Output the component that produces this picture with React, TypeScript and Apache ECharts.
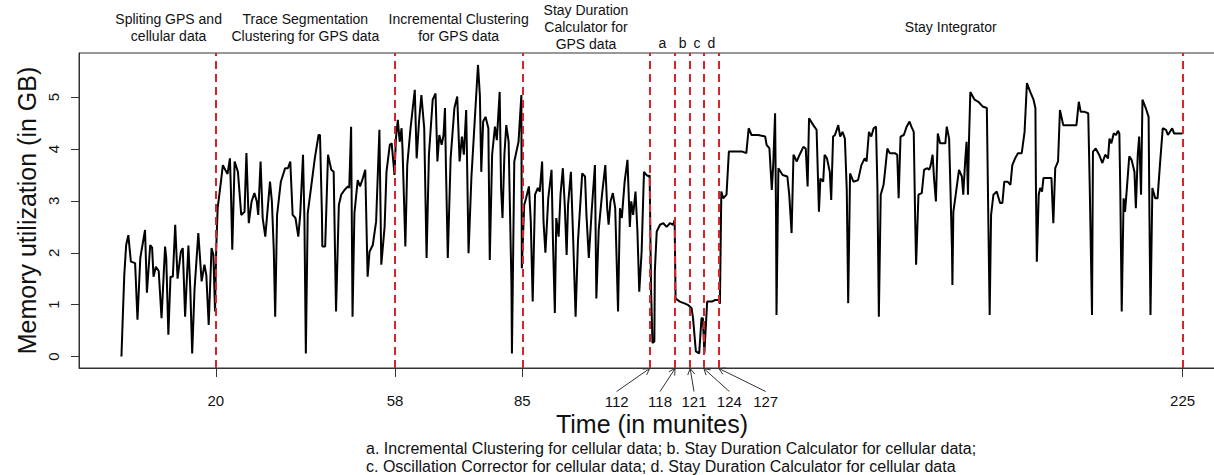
import React, { useEffect, useRef } from 'react';
import * as echarts from 'echarts';

// ---- data ----
const timeMin = [
  0, 0.25, 0.6, 1.0, 1.46, 2.0, 2.9, 3.4, 4.0, 5.0, 5.4, 6.1, 6.5, 6.8, 7.3, 7.9, 8.5, 9.25, 9.5, 9.95,
  10.4, 10.9, 11.4, 11.9, 12.6, 13.0, 13.5, 14.2, 14.6, 15.0, 15.5, 16.3, 17.0, 17.6, 18.0, 18.5, 19.1, 19.5, 19.85, 20.1,
  20.4, 21.1, 21.5, 22.0, 22.5, 23.0, 23.2, 23.5, 24.0, 24.7, 25.4, 26.1, 26.5, 27.0, 27.6, 28.2, 28.7, 29.0, 29.5, 29.95,
  30.5, 31.5, 31.9, 32.3, 32.6, 33.0, 33.8, 34.7, 35.3, 35.8, 36.3, 36.9, 37.5, 37.9, 38.5, 38.8, 39.1, 39.5, 40.2, 41.0,
  41.8, 42.1, 42.5, 42.6, 43.2, 43.8, 44.5, 45.0, 45.5, 46.1, 46.6, 47.3, 48.0, 48.3, 48.7, 49.0, 49.4, 50.1, 50.6, 51.2,
  51.7, 52.2, 52.6, 53.3, 54.0, 54.7, 55.1, 55.8, 56.2, 56.9, 57.3, 57.9,
  58.2, 58.6, 59.0, 59.4, 59.6, 60.2, 60.6, 61.3, 62.2, 62.6, 63.1, 63.6, 64.2, 64.7, 65.2, 66.0, 66.6, 67.0, 67.4, 67.9,
  68.3, 68.6, 68.8, 69.2, 69.8, 70.6, 71.2, 71.7, 72.2, 72.6, 73.1, 73.3, 73.6, 74.2, 74.9, 75.6, 76.0, 76.3, 76.7, 77.2,
  77.8, 78.1, 78.6, 79.2, 79.6, 80.2, 80.5, 80.8, 81.2, 81.6, 82.1, 82.7, 82.8, 83.3, 84.2, 84.8, 84.9,
  85.4, 85.8, 86.4, 86.8, 87.2, 87.7, 88.3, 88.7, 89.2, 89.5, 89.9, 90.5, 91.2, 91.5, 91.9, 92.2, 92.7, 93.1, 93.6, 94.0,
  94.4, 94.7, 95.3, 95.8, 96.3, 96.8, 97.7, 98.3, 98.6, 99.1, 99.7, 100.4, 100.7, 101.2, 101.9, 102.6, 103.0, 103.3, 103.7, 104.2,
  104.7, 105.3, 105.7, 106.1, 106.7, 107.3, 107.8, 108.1, 108.5, 109.0, 109.4, 109.8, 110.3, 110.8, 111.3, 111.8,
  112.0, 112.3, 112.6, 113.0, 113.1, 113.5, 114.2, 114.9, 115.6, 116.3, 117.0, 117.3, 117.5, 118.4, 119.5, 120.2, 120.9, 121.2, 121.8, 122.5,
  123.0, 123.3, 123.6, 124.2, 125.2, 125.9, 126.6, 126.9, 127.2,
  127.6, 128.3, 128.8, 130.4, 131.7, 132.5, 133.0, 133.6, 135.0, 136.5, 136.8, 137.4, 137.9, 138.2, 138.6, 138.8, 138.9, 139.3, 140.2, 141.2,
  141.6, 142.1, 142.5, 143.2, 143.8, 144.6, 145.1, 145.5, 145.8, 146.7, 147.4, 147.9, 148.2, 148.8, 149.1, 149.6, 150.2, 150.5, 150.9, 151.3,
  152.0, 152.4, 152.9, 153.4, 153.8, 154.1, 154.5, 155.2, 156.2, 156.9, 157.6, 158.0, 158.5, 159.0, 159.5, 160.0, 160.3, 160.6, 161.0, 161.6,
  161.9, 162.4, 162.9, 164.0, 164.5, 164.8, 165.2, 165.9, 166.5, 167.1, 167.5, 168.0, 168.3, 168.5, 169.0, 169.7, 170.2, 170.9, 171.3, 171.6,
  172.0, 172.3, 172.7, 173.1, 173.6, 174.7, 175.0, 175.5, 175.8, 176.1, 176.2, 176.4, 176.9, 177.6, 178.2, 178.5, 178.9, 179.2, 179.5, 179.7,
  180.0, 180.9, 181.7, 182.6, 183.5, 183.9, 184.1, 184.4, 184.9, 185.6, 186.3, 186.8, 187.2, 187.9, 188.5, 188.9, 189.5, 190.1, 190.9, 191.5,
  192.0, 192.7, 193.4, 193.8, 193.9, 194.1, 194.5, 194.8, 195.2, 195.5, 196.2, 197.2, 197.4, 197.6, 198.0, 198.6, 199.0, 199.7, 200.8, 202.5,
  203.0, 203.4, 204.1, 205.0, 205.3, 205.8, 206.0, 206.6, 207.3, 208.0, 208.6, 209.2, 209.5, 209.9, 210.4, 210.9, 211.3, 211.6, 211.8, 212.1,
  212.5, 212.8, 213.2, 213.7, 214.2, 214.8, 215.1, 215.5, 215.8, 216.2, 216.5, 217.2, 217.8, 218.0, 218.2, 218.6, 219.2, 219.7, 220.2, 220.8,
  221.5, 221.9, 222.8, 223.2, 224.2, 225.0,
];

const memoryGB = [
  0, 0.67, 1.57, 2.15, 2.34, 1.83, 1.80, 0.71, 1.90, 2.44, 1.23, 2.15, 2.10, 1.54, 1.73, 1.65, 0.74, 2.12, 1.90, 0.42,
  1.54, 1.54, 2.54, 1.50, 2.02, 2.09, 0.77, 2.14, 1.30, 0.06, 1.30, 2.38, 1.45, 1.77, 1.57, 0.61, 2.09, 1.96, 0.87, 2.09,
  2.86, 3.37, 3.69, 3.60, 3.52, 3.82, 3.25, 2.06, 3.76, 3.56, 2.73, 2.79, 3.92, 2.57, 2.99, 3.15, 2.99, 2.73, 3.76, 2.67,
  2.31, 3.37, 2.99, 2.06, 0.77, 2.73, 3.37, 3.63, 3.63, 3.76, 2.73, 2.67, 2.31, 2.73, 3.89, 2.63, 0.06, 2.76, 3.25, 3.82,
  4.27, 4.27, 2.79, 2.12, 2.12, 3.89, 3.60, 3.56, 0.87, 2.92, 3.12, 3.21, 3.28, 3.25, 4.43, 0.77, 2.76, 3.40, 3.28, 3.44,
  3.60, 1.54, 2.02, 2.15, 2.60, 4.37, 1.77, 2.50, 3.56, 4.08, 4.11, 3.50,
  4.20, 4.56, 4.14, 4.40, 4.00, 2.12, 3.69, 4.40, 5.14, 3.82, 4.53, 5.04, 4.40, 1.90, 3.89, 4.95, 5.07, 3.76, 4.27, 4.08,
  4.27, 4.79, 3.69, 1.90, 3.82, 4.79, 5.01, 3.76, 4.24, 3.89, 4.75, 3.69, 1.99, 3.44, 4.53, 5.62, 5.04, 3.56, 4.53, 4.62,
  4.40, 1.86, 3.89, 4.43, 4.17, 5.10, 3.24, 2.67, 3.89, 4.46, 4.14, 1.38, 0.06, 3.76, 4.14, 5.04, 1.70,
  2.92, 3.05, 3.28, 2.60, 1.06, 3.12, 3.25, 3.18, 3.76, 2.60, 2.00, 3.05, 3.60, 2.22, 0.84, 2.67, 2.31, 3.12, 3.63, 2.92,
  1.96, 2.92, 3.56, 2.22, 0.77, 2.22, 3.53, 3.47, 2.73, 1.90, 2.79, 3.69, 1.12, 2.44, 3.12, 3.69, 2.86, 2.54, 2.99, 3.15,
  2.86, 0.87, 2.86, 2.67, 3.37, 3.79, 2.50, 2.99, 2.73, 3.18, 2.44, 1.25, 2.02, 3.56, 3.50, 3.47,
  3.50, 1.30, 0.26, 0.29, 1.64, 2.41, 2.54, 2.57, 2.50, 2.57, 2.54, 2.63, 1.12, 1.06, 1.02, 0.99, 0.93, 0.74, 0.10, 0.06,
  0.74, 0.74, 0.06, 1.06, 1.06, 1.09, 1.09, 1.02, 3.18,
  3.05, 3.12, 3.95, 3.95, 3.95, 3.92, 4.40, 4.27, 4.27, 4.24, 4.08, 4.01, 3.21, 3.69, 4.69, 2.73, 0.80, 3.63, 3.50, 3.47,
  3.12, 2.38, 3.89, 3.76, 3.89, 4.04, 4.01, 3.28, 4.59, 4.46, 4.37, 2.79, 3.43, 3.37, 3.89, 3.82, 3.56, 3.02, 4.24, 4.27,
  4.46, 4.24, 4.33, 4.20, 3.21, 1.03, 3.53, 3.37, 3.40, 3.69, 3.82, 3.76, 4.33, 4.24, 4.40, 4.43, 3.25, 0.77, 3.12, 3.31,
  3.56, 4.01, 3.92, 3.92, 3.89, 3.05, 4.24, 4.27, 4.43, 4.53, 4.43, 4.33, 2.67, 1.77, 3.12, 3.15, 3.60, 3.63, 3.60, 3.69,
  3.89, 3.44, 2.99, 4.30, 4.11, 4.11, 4.43, 4.20, 3.18, 2.09, 1.38, 2.79, 3.12, 3.60, 3.47, 3.12, 3.76, 4.14, 3.12, 4.11,
  5.10, 4.95, 4.91, 4.82, 4.79, 2.09, 0.80, 2.73, 3.12, 3.18, 2.96, 2.96, 3.37, 3.37, 3.31, 3.69, 3.82, 3.92, 3.92, 4.33,
  5.27, 5.10, 4.95, 4.79, 3.37, 1.83, 3.12, 3.25, 3.18, 3.44, 3.44, 3.44, 2.99, 2.57, 3.63, 3.76, 4.75, 4.46, 4.46, 4.46,
  4.91, 4.72, 4.72, 4.69, 3.37, 0.80, 3.95, 4.01, 3.89, 3.73, 3.89, 3.82, 4.20, 4.11, 4.30, 4.27, 4.35, 4.30, 3.18, 0.87,
  3.05, 2.79, 3.25, 3.86, 3.79, 3.56, 2.86, 3.89, 4.24, 3.12, 4.95, 4.79, 4.62, 2.50, 0.80, 3.25, 3.05, 3.05, 3.69, 4.40,
  4.37, 4.27, 4.40, 4.30, 4.30, 4.30,
];

// phase boundaries (dashed red lines), in minutes
const phaseLines = [20, 58, 85, 112, 117.4, 120.6, 123.5, 126.7, 225];
const xTickValues = [20, 58, 85, 225];
const yTickValues = [0, 1, 2, 3, 4, 5];

// labels pointing with arrows at the short phases
const arrowTickLabels = ['112', '118', '121', '124', '127'];
const arrowTargets = [112, 117.4, 120.6, 123.5, 126.7];
const arrowLabelAt = [105, 114.2, 121.4, 128.9, 136.6];

// phase titles above the plot: [from, to, text]
const phaseTitles: [number, number, string][] = [
  [0, 20, 'Spliting GPS and\ncellular data'],
  [20, 58, 'Trace Segmentation\nClustering for GPS data'],
  [58, 85, 'Incremental Clustering\nfor GPS data'],
  [85, 112, 'Stay Duration\nCalculator for\nGPS data'],
  [126.7, 225, 'Stay Integrator'],
];
const shortPhaseTitles: [number, number, string][] = [
  [112, 117.4, 'a'],
  [117.4, 120.6, 'b'],
  [120.6, 123.5, 'c'],
  [123.5, 126.7, 'd'],
];

const xTitle = 'Time (in munites)';
const yTitle = 'Memory utilization (in GB)';
const footnoteLines = [
  'a. Incremental Clustering for cellular data; b. Stay Duration Calculator for cellular data;',
  'c. Oscillation Corrector for cellular data; d. Stay Duration Calculator for cellular data',
];

const FONT = '"Liberation Sans", Arial, Helvetica, sans-serif';
const INK = '#111';
const AXIS = '#333';

export default function App() {
  const ref = useRef<HTMLDivElement>(null);

  useEffect(() => {
    if (!ref.current) return;
    const chart = echarts.init(ref.current, null, { renderer: 'svg' });

    const option: any = {
      animation: false,
      backgroundColor: '#fff',
      grid: {
        left: 79,
        top: 53,
        width: 1146,
        height: 315,
        show: true,
        borderColor: AXIS,
        borderWidth: 1,
        backgroundColor: 'transparent',
        containLabel: false,
        outerBoundsMode: 'none',
      },
      xAxis: {
        type: 'value',
        position: 'bottom',
        min: -9,
        max: 234,
        axisLine: { show: true, onZero: false, lineStyle: { color: AXIS, width: 1 } },
        splitLine: { show: false },
        axisTick: { show: true, customValues: xTickValues, length: 9, lineStyle: { color: AXIS, width: 1 } },
        axisLabel: { show: true, customValues: xTickValues, margin: 25, fontSize: 15, color: INK, fontFamily: FONT },
      },
      yAxis: {
        type: 'value',
        position: 'left',
        min: -0.22,
        max: 5.85,
        axisLine: { show: true, onZero: false, lineStyle: { color: AXIS, width: 1 } },
        splitLine: { show: false },
        axisTick: { show: true, customValues: yTickValues, length: 8, lineStyle: { color: AXIS, width: 1 } },
        axisLabel: { show: true, customValues: yTickValues, rotate: 90, margin: 18, fontSize: 15, color: INK, fontFamily: FONT },
      },
      series: [
        {
          type: 'line',
          data: timeMin.map((t, i) => [t, memoryGB[i]]),
          symbol: 'none',
          showSymbol: false,
          silent: true,
          lineStyle: { color: '#000', width: 2 },
          emphasis: { disabled: true },
          markLine: {
            silent: true,
            symbol: ['none', 'none'],
            label: { show: false },
            emphasis: { disabled: true },
            lineStyle: { color: '#d9232b', width: 2, type: [8, 5], opacity: 1 },
            data: phaseLines.map((v) => ({ xAxis: v })),
          },
        },
      ],
    };
    chart.setOption(option);

    const px = (x: number, y: number) => chart.convertToPixel({ gridIndex: 0 }, [x, y]) as number[];
    const bottomY = px(0, -0.22)[1];
    const topY = px(0, 5.85)[1];

    const graphics: any[] = [];

    phaseTitles.forEach(([a, b, text]) => {
      const cx = px((a + b) / 2, 0)[0];
      graphics.push({
        type: 'text',
        x: cx,
        y: topY - 26,
        style: { text, font: `14px ${FONT}`, fill: INK, align: 'center', verticalAlign: 'middle', lineHeight: 17 },
      });
    });
    shortPhaseTitles.forEach(([a, b, text]) => {
      const cx = px((a + b) / 2, 0)[0];
      graphics.push({
        type: 'text',
        x: cx,
        y: topY - 10,
        style: { text, font: `14px ${FONT}`, fill: INK, align: 'center', verticalAlign: 'middle' },
      });
    });

    arrowTickLabels.forEach((label, i) => {
      const lx = px(arrowLabelAt[i], 0)[0];
      const tx = px(arrowTargets[i], 0)[0];
      graphics.push({
        type: 'text',
        x: lx,
        y: bottomY + 33,
        style: { text: label, font: `15px ${FONT}`, fill: INK, align: 'center', verticalAlign: 'middle' },
      });
      const sx = lx, sy = bottomY + 23.5;
      const tipX = tx, tipY = bottomY + 0.5;
      const dx = tipX - sx, dy = tipY - sy;
      const len = Math.hypot(dx, dy);
      const ux = dx / len, uy = dy / len;
      const L = 7, c = Math.cos(Math.PI / 6), s = Math.sin(Math.PI / 6);
      const w1 = [tipX - L * (ux * c - uy * s), tipY - L * (uy * c + ux * s)];
      const w2 = [tipX - L * (ux * c + uy * s), tipY - L * (uy * c - ux * s)];
      graphics.push({
        type: 'line',
        shape: { x1: sx, y1: sy, x2: tipX, y2: tipY },
        style: { stroke: AXIS, lineWidth: 1 },
      });
      graphics.push({
        type: 'polyline',
        shape: { points: [w1, [tipX, tipY], w2] },
        style: { stroke: AXIS, lineWidth: 1, fill: null },
      });
    });

    graphics.push({
      type: 'text',
      x: 652,
      y: bottomY + 56,
      style: { text: xTitle, font: `25px ${FONT}`, fill: INK, align: 'center', verticalAlign: 'middle' },
    });
    graphics.push({
      type: 'text',
      x: 27,
      y: (topY + bottomY) / 2,
      rotation: Math.PI / 2,
      style: { text: yTitle, font: `25px ${FONT}`, fill: INK, align: 'center', verticalAlign: 'middle' },
    });
    footnoteLines.forEach((t, i) => {
      graphics.push({
        type: 'text',
        x: 366,
        y: 448.5 + i * 18.3,
        style: { text: t, font: `16px ${FONT}`, fill: INK, align: 'left', verticalAlign: 'middle' },
      });
    });

    chart.setOption({ graphic: graphics });

    return () => chart.dispose();
  }, []);

  return (
    <div
      ref={ref}
      style={{ position: 'absolute', left: 0, top: 0, width: 1214, height: 475, background: '#fff' }}
    />
  );
}
